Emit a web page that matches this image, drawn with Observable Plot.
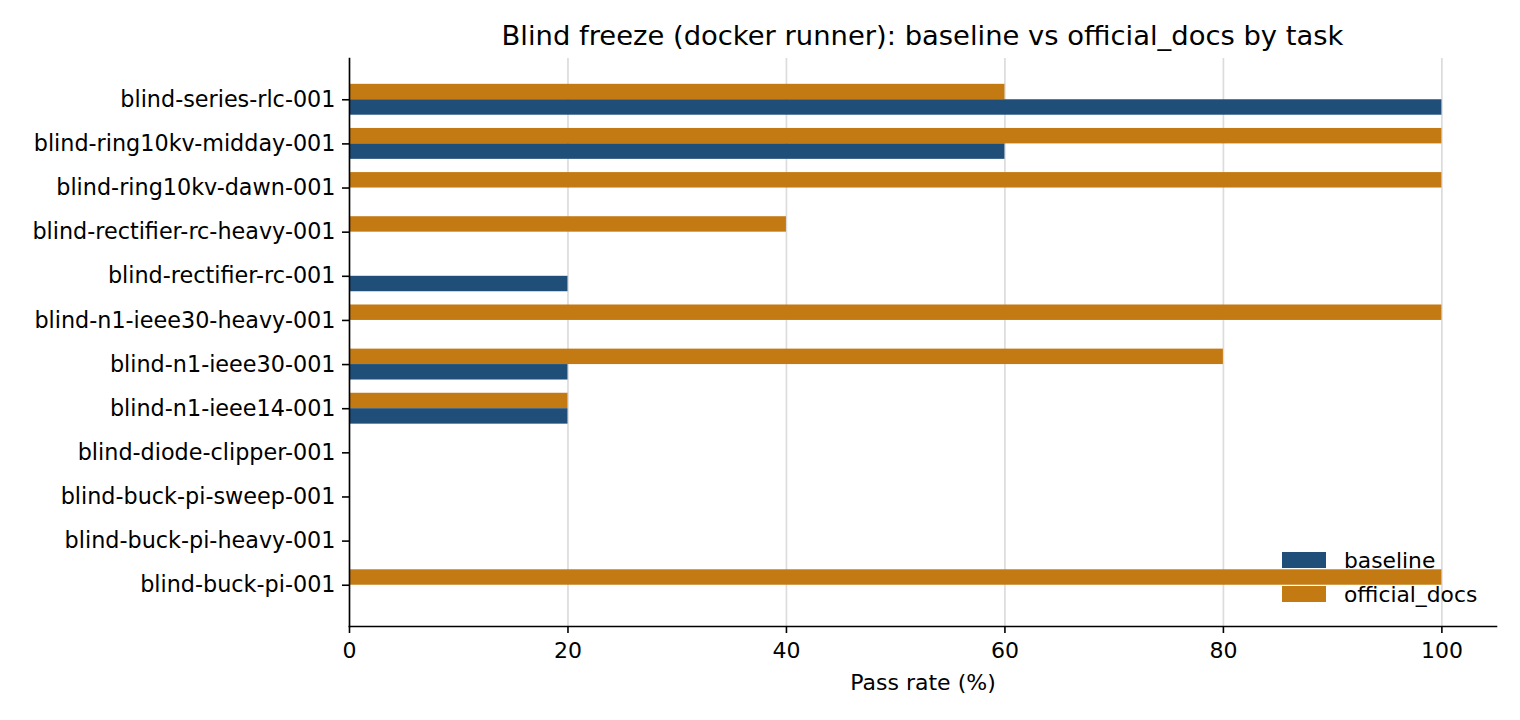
<!DOCTYPE html>
<html><head><meta charset="utf-8">
<script src="https://cdn.jsdelivr.net/npm/d3@7"></script>
<script src="https://cdn.jsdelivr.net/npm/@observablehq/plot@0.6"></script>
<style>
body{margin:0;background:#fff;font-family:"DejaVu Sans",sans-serif;}
#wrap{position:relative;width:1520px;height:720px;overflow:hidden;}
#title{position:absolute;left:349px;width:1147px;top:20px;text-align:center;font-size:27.4px;line-height:32px;color:#000;white-space:nowrap;}
#legend{position:absolute;left:1282px;top:543px;font-size:21.8px;color:#000;}
.row{display:flex;align-items:center;height:34px;}
.sw{width:44px;height:16px;margin-right:18px;}
</style></head>
<body><div id="wrap"><div id="title">Blind freeze (docker runner): baseline vs official_docs by task</div><div id="legend"></div></div>
<script>
const categories = [
  "blind-series-rlc-001",
  "blind-ring10kv-midday-001",
  "blind-ring10kv-dawn-001",
  "blind-rectifier-rc-heavy-001",
  "blind-rectifier-rc-001",
  "blind-n1-ieee30-heavy-001",
  "blind-n1-ieee30-001",
  "blind-n1-ieee14-001",
  "blind-diode-clipper-001",
  "blind-buck-pi-sweep-001",
  "blind-buck-pi-heavy-001",
  "blind-buck-pi-001"
];
const baseline     = [100, 60,   0,  0, 20,   0, 20, 20, 0, 0, 0,   0];
const officialDocs = [ 60, 100, 100, 40,  0, 100, 80, 20, 0, 0, 0, 100];
const series = ["baseline", "official_docs"];
const colors = ["#1f4e79", "#c47a12"];
const xTicks = [0, 20, 40, 60, 80, 100];

const barH = 0.35;
const rows = [];
categories.forEach((c, i) => {
  rows.push({series: "official_docs", value: officialDocs[i], y1: i - barH, y2: i});
  rows.push({series: "baseline", value: baseline[i], y1: i, y2: i + barH});
});
const pad = (11 + 2 * barH) * 0.05;

const chart = Plot.plot({
  width: 1520, height: 720,
  marginTop: 58, marginBottom: 94, marginLeft: 349, marginRight: 24,
  style: {fontFamily: "DejaVu Sans", fontSize: "22.3px", color: "#000", background: "#fff"},
  x: {domain: [0, 105]},
  y: {domain: [-barH - pad, 11 + barH + pad], reverse: true},
  color: {domain: series, range: colors},
  marks: [
    Plot.gridX(xTicks, {stroke: "#dcdcdc", strokeOpacity: 1, strokeWidth: 1.7}),
    Plot.rectX(rows, {x1: 0, x2: "value", y1: "y1", y2: "y2", fill: "series"}),
    Plot.axisX(xTicks, {tickSize: 7, tickPadding: 9, strokeWidth: 1.6, fontSize: "22px", label: "Pass rate (%)", labelAnchor: "center", labelArrow: "none", labelOffset: 63}),
    Plot.axisY(d3.range(categories.length), {tickFormat: i => categories[i], tickSize: 7, tickPadding: 7, strokeWidth: 1.6, label: null}),
    Plot.frame({anchor: "left", strokeWidth: 1.6}),
    Plot.frame({anchor: "bottom", strokeWidth: 1.6})
  ]
});
const wrap = document.getElementById("wrap");
wrap.insertBefore(chart, wrap.firstChild);
chart.style.position = "absolute"; chart.style.left = "0"; chart.style.top = "0";

const legend = document.getElementById("legend");
series.forEach((s, k) => {
  const r = document.createElement("div"); r.className = "row";
  const sw = document.createElement("div"); sw.className = "sw"; sw.style.background = colors[k];
  const t = document.createElement("span"); t.textContent = s;
  r.appendChild(sw); r.appendChild(t); legend.appendChild(r);
});
</script></body></html>
